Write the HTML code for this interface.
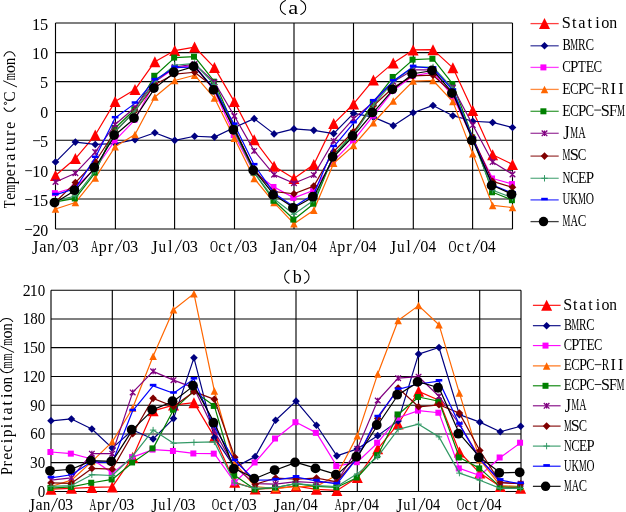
<!DOCTYPE html>
<html><head><meta charset="utf-8"><style>
html,body{margin:0;padding:0;background:#fff;}
svg{display:block;will-change:transform;}
text{font-family:"Liberation Serif", serif;fill:#000;}
</style></head><body>
<svg width="626" height="512" viewBox="0 0 626 512">
<rect width="626" height="512" fill="#fff"/>
<path d="M55.5 23H512.5M55.5 52.6H512.5M55.5 81.6H512.5M55.5 111.5H512.5M55.5 140.3H512.5M55.5 170.3H512.5M55.5 199H512.5M55.5 229H512.5M55.5 23V229M115.4 23V229M174.6 23V229M234.5 23V229M294 23V229M353.5 23V229M413.3 23V229M472.6 23V229M512.5 23V229" stroke="#000" stroke-width="1.12" fill="none"/>
<polyline points="55.5,175.55 75.37,158.53 95.24,135.06 115.11,101.61 134.98,89.58 154.85,61.71 174.72,50.56 194.59,47.04 214.46,67.58 234.33,101.61 254.2,139.75 274.07,166.16 293.93,178.48 313.8,164.4 333.67,123.62 353.54,103.96 373.41,79.9 393.28,62.88 413.15,49.97 433.02,49.68 452.89,67.87 472.76,110.41 492.63,154.72 512.5,164.4" fill="none" stroke="#FF0000" stroke-width="1.2" stroke-linejoin="round"/>
<path d="M55.5 170.05L61 181.05L50 181.05Z" fill="#FF0000"/><path d="M75.37 153.03L80.87 164.03L69.87 164.03Z" fill="#FF0000"/><path d="M95.24 129.56L100.74 140.56L89.74 140.56Z" fill="#FF0000"/><path d="M115.11 96.11L120.61 107.11L109.61 107.11Z" fill="#FF0000"/><path d="M134.98 84.08L140.48 95.08L129.48 95.08Z" fill="#FF0000"/><path d="M154.85 56.21L160.35 67.21L149.35 67.21Z" fill="#FF0000"/><path d="M174.72 45.06L180.22 56.06L169.22 56.06Z" fill="#FF0000"/><path d="M194.59 41.54L200.09 52.54L189.09 52.54Z" fill="#FF0000"/><path d="M214.46 62.08L219.96 73.08L208.96 73.08Z" fill="#FF0000"/><path d="M234.33 96.11L239.83 107.11L228.83 107.11Z" fill="#FF0000"/><path d="M254.2 134.25L259.7 145.25L248.7 145.25Z" fill="#FF0000"/><path d="M274.07 160.66L279.57 171.66L268.57 171.66Z" fill="#FF0000"/><path d="M293.93 172.98L299.43 183.98L288.43 183.98Z" fill="#FF0000"/><path d="M313.8 158.9L319.3 169.9L308.3 169.9Z" fill="#FF0000"/><path d="M333.67 118.12L339.17 129.12L328.17 129.12Z" fill="#FF0000"/><path d="M353.54 98.46L359.04 109.46L348.04 109.46Z" fill="#FF0000"/><path d="M373.41 74.4L378.91 85.4L367.91 85.4Z" fill="#FF0000"/><path d="M393.28 57.38L398.78 68.38L387.78 68.38Z" fill="#FF0000"/><path d="M413.15 44.47L418.65 55.47L407.65 55.47Z" fill="#FF0000"/><path d="M433.02 44.18L438.52 55.18L427.52 55.18Z" fill="#FF0000"/><path d="M452.89 62.37L458.39 73.37L447.39 73.37Z" fill="#FF0000"/><path d="M472.76 104.91L478.26 115.91L467.26 115.91Z" fill="#FF0000"/><path d="M492.63 149.22L498.13 160.22L487.13 160.22Z" fill="#FF0000"/><path d="M512.5 158.9L518 169.9L507 169.9Z" fill="#FF0000"/>
<polyline points="55.5,162.05 75.37,142.1 95.24,144.45 115.11,143.57 134.98,139.75 154.85,132.71 174.72,140.34 194.59,136.23 214.46,137.11 234.33,127.43 254.2,118.63 274.07,133.89 293.93,128.9 313.8,130.36 333.67,133.59 353.54,113.35 373.41,117.16 393.28,125.67 413.15,112.76 433.02,105.43 452.89,115.69 472.76,121.27 492.63,122.44 512.5,127.43" fill="none" stroke="#000080" stroke-width="1.2" stroke-linejoin="round"/>
<path d="M55.5 158.25L59.3 162.05L55.5 165.85L51.7 162.05Z" fill="#000080"/><path d="M75.37 138.3L79.17 142.1L75.37 145.9L71.57 142.1Z" fill="#000080"/><path d="M95.24 140.65L99.04 144.45L95.24 148.25L91.44 144.45Z" fill="#000080"/><path d="M115.11 139.77L118.91 143.57L115.11 147.37L111.31 143.57Z" fill="#000080"/><path d="M134.98 135.95L138.78 139.75L134.98 143.55L131.18 139.75Z" fill="#000080"/><path d="M154.85 128.91L158.65 132.71L154.85 136.51L151.05 132.71Z" fill="#000080"/><path d="M174.72 136.54L178.52 140.34L174.72 144.14L170.92 140.34Z" fill="#000080"/><path d="M194.59 132.43L198.39 136.23L194.59 140.03L190.79 136.23Z" fill="#000080"/><path d="M214.46 133.31L218.26 137.11L214.46 140.91L210.66 137.11Z" fill="#000080"/><path d="M234.33 123.63L238.13 127.43L234.33 131.23L230.53 127.43Z" fill="#000080"/><path d="M254.2 114.83L258 118.63L254.2 122.43L250.4 118.63Z" fill="#000080"/><path d="M274.07 130.09L277.87 133.89L274.07 137.69L270.27 133.89Z" fill="#000080"/><path d="M293.93 125.1L297.73 128.9L293.93 132.7L290.13 128.9Z" fill="#000080"/><path d="M313.8 126.56L317.6 130.36L313.8 134.16L310 130.36Z" fill="#000080"/><path d="M333.67 129.79L337.47 133.59L333.67 137.39L329.87 133.59Z" fill="#000080"/><path d="M353.54 109.55L357.34 113.35L353.54 117.15L349.74 113.35Z" fill="#000080"/><path d="M373.41 113.36L377.21 117.16L373.41 120.96L369.61 117.16Z" fill="#000080"/><path d="M393.28 121.87L397.08 125.67L393.28 129.47L389.48 125.67Z" fill="#000080"/><path d="M413.15 108.96L416.95 112.76L413.15 116.56L409.35 112.76Z" fill="#000080"/><path d="M433.02 101.63L436.82 105.43L433.02 109.23L429.22 105.43Z" fill="#000080"/><path d="M452.89 111.89L456.69 115.69L452.89 119.49L449.09 115.69Z" fill="#000080"/><path d="M472.76 117.47L476.56 121.27L472.76 125.07L468.96 121.27Z" fill="#000080"/><path d="M492.63 118.64L496.43 122.44L492.63 126.24L488.83 122.44Z" fill="#000080"/><path d="M512.5 123.63L516.3 127.43L512.5 131.23L508.7 127.43Z" fill="#000080"/>
<polyline points="55.5,193.15 75.37,187.28 95.24,168.51 115.11,140.34 134.98,119.8 154.85,81.66 174.72,68.16 194.59,65.23 214.46,91.05 234.33,135.06 254.2,172.61 274.07,186.99 293.93,197.85 313.8,190.22 333.67,160.88 353.54,140.34 373.41,115.69 393.28,90.46 413.15,75.79 433.02,72.27 452.89,96.33 472.76,139.17 492.63,178.48 512.5,184.06" fill="none" stroke="#FF00FF" stroke-width="1.2" stroke-linejoin="round"/>
<rect x="51.9" y="190.15" width="6" height="6" fill="#FF00FF"/><rect x="71.77" y="184.28" width="6" height="6" fill="#FF00FF"/><rect x="91.64" y="165.51" width="6" height="6" fill="#FF00FF"/><rect x="111.51" y="137.34" width="6" height="6" fill="#FF00FF"/><rect x="131.38" y="116.8" width="6" height="6" fill="#FF00FF"/><rect x="151.25" y="78.66" width="6" height="6" fill="#FF00FF"/><rect x="171.12" y="65.16" width="6" height="6" fill="#FF00FF"/><rect x="190.99" y="62.23" width="6" height="6" fill="#FF00FF"/><rect x="210.86" y="88.05" width="6" height="6" fill="#FF00FF"/><rect x="230.73" y="132.06" width="6" height="6" fill="#FF00FF"/><rect x="250.6" y="169.61" width="6" height="6" fill="#FF00FF"/><rect x="270.47" y="183.99" width="6" height="6" fill="#FF00FF"/><rect x="290.33" y="194.85" width="6" height="6" fill="#FF00FF"/><rect x="310.2" y="187.22" width="6" height="6" fill="#FF00FF"/><rect x="330.07" y="157.88" width="6" height="6" fill="#FF00FF"/><rect x="349.94" y="137.34" width="6" height="6" fill="#FF00FF"/><rect x="369.81" y="112.69" width="6" height="6" fill="#FF00FF"/><rect x="389.68" y="87.46" width="6" height="6" fill="#FF00FF"/><rect x="409.55" y="72.79" width="6" height="6" fill="#FF00FF"/><rect x="429.42" y="69.27" width="6" height="6" fill="#FF00FF"/><rect x="449.29" y="93.33" width="6" height="6" fill="#FF00FF"/><rect x="469.16" y="136.17" width="6" height="6" fill="#FF00FF"/><rect x="489.03" y="175.48" width="6" height="6" fill="#FF00FF"/><rect x="508.9" y="181.06" width="6" height="6" fill="#FF00FF"/>
<polyline points="55.5,209 75.37,202.54 95.24,177.9 115.11,146.79 134.98,134.47 154.85,96.92 174.72,80.49 194.59,75.21 214.46,98.09 234.33,138.29 254.2,178.48 274.07,202.54 293.93,223.67 313.8,210.17 333.67,163.23 353.54,145.62 373.41,122.74 393.28,101.02 413.15,81.07 433.02,80.49 452.89,101.61 472.76,153.84 492.63,205.47 512.5,207.53" fill="none" stroke="#FF6600" stroke-width="1.2" stroke-linejoin="round"/>
<path d="M55.5 205.25L59.25 212.75L51.75 212.75Z" fill="#FF6600"/><path d="M75.37 198.79L79.12 206.29L71.62 206.29Z" fill="#FF6600"/><path d="M95.24 174.15L98.99 181.65L91.49 181.65Z" fill="#FF6600"/><path d="M115.11 143.04L118.86 150.54L111.36 150.54Z" fill="#FF6600"/><path d="M134.98 130.72L138.73 138.22L131.23 138.22Z" fill="#FF6600"/><path d="M154.85 93.17L158.6 100.67L151.1 100.67Z" fill="#FF6600"/><path d="M174.72 76.74L178.47 84.24L170.97 84.24Z" fill="#FF6600"/><path d="M194.59 71.46L198.34 78.96L190.84 78.96Z" fill="#FF6600"/><path d="M214.46 94.34L218.21 101.84L210.71 101.84Z" fill="#FF6600"/><path d="M234.33 134.54L238.08 142.04L230.58 142.04Z" fill="#FF6600"/><path d="M254.2 174.73L257.95 182.23L250.45 182.23Z" fill="#FF6600"/><path d="M274.07 198.79L277.82 206.29L270.32 206.29Z" fill="#FF6600"/><path d="M293.93 219.92L297.68 227.42L290.18 227.42Z" fill="#FF6600"/><path d="M313.8 206.42L317.55 213.92L310.05 213.92Z" fill="#FF6600"/><path d="M333.67 159.48L337.42 166.98L329.92 166.98Z" fill="#FF6600"/><path d="M353.54 141.87L357.29 149.37L349.79 149.37Z" fill="#FF6600"/><path d="M373.41 118.99L377.16 126.49L369.66 126.49Z" fill="#FF6600"/><path d="M393.28 97.27L397.03 104.77L389.53 104.77Z" fill="#FF6600"/><path d="M413.15 77.32L416.9 84.82L409.4 84.82Z" fill="#FF6600"/><path d="M433.02 76.74L436.77 84.24L429.27 84.24Z" fill="#FF6600"/><path d="M452.89 97.86L456.64 105.36L449.14 105.36Z" fill="#FF6600"/><path d="M472.76 150.09L476.51 157.59L469.01 157.59Z" fill="#FF6600"/><path d="M492.63 201.72L496.38 209.22L488.88 209.22Z" fill="#FF6600"/><path d="M512.5 203.78L516.25 211.28L508.75 211.28Z" fill="#FF6600"/>
<polyline points="55.5,201.95 75.37,198.43 95.24,172.61 115.11,128.02 134.98,109.24 154.85,75.79 174.72,57.6 194.59,56.72 214.46,81.66 234.33,127.43 254.2,172.61 274.07,200.78 293.93,219.56 313.8,203.71 333.67,155.01 353.54,133.3 373.41,102.2 393.28,76.97 413.15,59.65 433.02,58.77 452.89,84.01 472.76,137.41 492.63,192.27 512.5,200.19" fill="none" stroke="#008000" stroke-width="1.2" stroke-linejoin="round"/>
<rect x="51.9" y="198.95" width="6" height="6" fill="#008000"/><rect x="71.77" y="195.43" width="6" height="6" fill="#008000"/><rect x="91.64" y="169.61" width="6" height="6" fill="#008000"/><rect x="111.51" y="125.02" width="6" height="6" fill="#008000"/><rect x="131.38" y="106.24" width="6" height="6" fill="#008000"/><rect x="151.25" y="72.79" width="6" height="6" fill="#008000"/><rect x="171.12" y="54.6" width="6" height="6" fill="#008000"/><rect x="190.99" y="53.72" width="6" height="6" fill="#008000"/><rect x="210.86" y="78.66" width="6" height="6" fill="#008000"/><rect x="230.73" y="124.43" width="6" height="6" fill="#008000"/><rect x="250.6" y="169.61" width="6" height="6" fill="#008000"/><rect x="270.47" y="197.78" width="6" height="6" fill="#008000"/><rect x="290.33" y="216.56" width="6" height="6" fill="#008000"/><rect x="310.2" y="200.71" width="6" height="6" fill="#008000"/><rect x="330.07" y="152.01" width="6" height="6" fill="#008000"/><rect x="349.94" y="130.3" width="6" height="6" fill="#008000"/><rect x="369.81" y="99.2" width="6" height="6" fill="#008000"/><rect x="389.68" y="73.97" width="6" height="6" fill="#008000"/><rect x="409.55" y="56.65" width="6" height="6" fill="#008000"/><rect x="429.42" y="55.77" width="6" height="6" fill="#008000"/><rect x="449.29" y="81.01" width="6" height="6" fill="#008000"/><rect x="469.16" y="134.41" width="6" height="6" fill="#008000"/><rect x="489.03" y="189.27" width="6" height="6" fill="#008000"/><rect x="508.9" y="197.19" width="6" height="6" fill="#008000"/>
<polyline points="55.5,182 75.37,173.2 95.24,152.08 115.11,124.5 134.98,107.48 154.85,81.66 174.72,66.99 194.59,64.06 214.46,82.25 234.33,115.99 254.2,150.9 274.07,174.67 293.93,183.18 313.8,174.96 333.67,140.93 353.54,118.63 373.41,102.2 393.28,81.66 413.15,69.92 433.02,69.92 452.89,87.53 472.76,125.08 492.63,162.05 512.5,174.37" fill="none" stroke="#800080" stroke-width="1.2" stroke-linejoin="round"/>
<path d="M52.7 179.2L58.3 184.8M52.7 184.8L58.3 179.2M55.5 179.2L55.5 184.8" stroke="#800080" stroke-width="1.3" fill="none"/><path d="M72.57 170.4L78.17 176M72.57 176L78.17 170.4M75.37 170.4L75.37 176" stroke="#800080" stroke-width="1.3" fill="none"/><path d="M92.44 149.28L98.04 154.88M92.44 154.88L98.04 149.28M95.24 149.28L95.24 154.88" stroke="#800080" stroke-width="1.3" fill="none"/><path d="M112.31 121.7L117.91 127.3M112.31 127.3L117.91 121.7M115.11 121.7L115.11 127.3" stroke="#800080" stroke-width="1.3" fill="none"/><path d="M132.18 104.68L137.78 110.28M132.18 110.28L137.78 104.68M134.98 104.68L134.98 110.28" stroke="#800080" stroke-width="1.3" fill="none"/><path d="M152.05 78.86L157.65 84.46M152.05 84.46L157.65 78.86M154.85 78.86L154.85 84.46" stroke="#800080" stroke-width="1.3" fill="none"/><path d="M171.92 64.19L177.52 69.79M171.92 69.79L177.52 64.19M174.72 64.19L174.72 69.79" stroke="#800080" stroke-width="1.3" fill="none"/><path d="M191.79 61.26L197.39 66.86M191.79 66.86L197.39 61.26M194.59 61.26L194.59 66.86" stroke="#800080" stroke-width="1.3" fill="none"/><path d="M211.66 79.45L217.26 85.05M211.66 85.05L217.26 79.45M214.46 79.45L214.46 85.05" stroke="#800080" stroke-width="1.3" fill="none"/><path d="M231.53 113.19L237.13 118.79M231.53 118.79L237.13 113.19M234.33 113.19L234.33 118.79" stroke="#800080" stroke-width="1.3" fill="none"/><path d="M251.4 148.1L257 153.7M251.4 153.7L257 148.1M254.2 148.1L254.2 153.7" stroke="#800080" stroke-width="1.3" fill="none"/><path d="M271.27 171.87L276.87 177.47M271.27 177.47L276.87 171.87M274.07 171.87L274.07 177.47" stroke="#800080" stroke-width="1.3" fill="none"/><path d="M291.13 180.38L296.73 185.98M291.13 185.98L296.73 180.38M293.93 180.38L293.93 185.98" stroke="#800080" stroke-width="1.3" fill="none"/><path d="M311 172.16L316.6 177.76M311 177.76L316.6 172.16M313.8 172.16L313.8 177.76" stroke="#800080" stroke-width="1.3" fill="none"/><path d="M330.87 138.13L336.47 143.73M330.87 143.73L336.47 138.13M333.67 138.13L333.67 143.73" stroke="#800080" stroke-width="1.3" fill="none"/><path d="M350.74 115.83L356.34 121.43M350.74 121.43L356.34 115.83M353.54 115.83L353.54 121.43" stroke="#800080" stroke-width="1.3" fill="none"/><path d="M370.61 99.4L376.21 105M370.61 105L376.21 99.4M373.41 99.4L373.41 105" stroke="#800080" stroke-width="1.3" fill="none"/><path d="M390.48 78.86L396.08 84.46M390.48 84.46L396.08 78.86M393.28 78.86L393.28 84.46" stroke="#800080" stroke-width="1.3" fill="none"/><path d="M410.35 67.12L415.95 72.72M410.35 72.72L415.95 67.12M413.15 67.12L413.15 72.72" stroke="#800080" stroke-width="1.3" fill="none"/><path d="M430.22 67.12L435.82 72.72M430.22 72.72L435.82 67.12M433.02 67.12L433.02 72.72" stroke="#800080" stroke-width="1.3" fill="none"/><path d="M450.09 84.73L455.69 90.33M450.09 90.33L455.69 84.73M452.89 84.73L452.89 90.33" stroke="#800080" stroke-width="1.3" fill="none"/><path d="M469.96 122.28L475.56 127.88M469.96 127.88L475.56 122.28M472.76 122.28L472.76 127.88" stroke="#800080" stroke-width="1.3" fill="none"/><path d="M489.83 159.25L495.43 164.85M489.83 164.85L495.43 159.25M492.63 159.25L492.63 164.85" stroke="#800080" stroke-width="1.3" fill="none"/><path d="M509.7 171.57L515.3 177.17M509.7 177.17L515.3 171.57M512.5 171.57L512.5 177.17" stroke="#800080" stroke-width="1.3" fill="none"/>
<polyline points="55.5,201.95 75.37,182.59 95.24,161.76 115.11,131.54 134.98,111 154.85,84.59 174.72,74.03 194.59,72.27 214.46,87.53 234.33,128.6 254.2,169.68 274.07,191.69 293.93,193.74 313.8,186.11 333.67,151.49 353.54,131.54 373.41,105.72 393.28,87.53 413.15,75.79 433.02,75.21 452.89,93.4 472.76,137.41 492.63,181.42 512.5,187.28" fill="none" stroke="#800000" stroke-width="1.2" stroke-linejoin="round"/>
<path d="M55.5 198.15L59.3 201.95L55.5 205.75L51.7 201.95Z" fill="#800000"/><path d="M75.37 178.79L79.17 182.59L75.37 186.39L71.57 182.59Z" fill="#800000"/><path d="M95.24 157.96L99.04 161.76L95.24 165.56L91.44 161.76Z" fill="#800000"/><path d="M115.11 127.74L118.91 131.54L115.11 135.34L111.31 131.54Z" fill="#800000"/><path d="M134.98 107.2L138.78 111L134.98 114.8L131.18 111Z" fill="#800000"/><path d="M154.85 80.79L158.65 84.59L154.85 88.39L151.05 84.59Z" fill="#800000"/><path d="M174.72 70.23L178.52 74.03L174.72 77.83L170.92 74.03Z" fill="#800000"/><path d="M194.59 68.47L198.39 72.27L194.59 76.07L190.79 72.27Z" fill="#800000"/><path d="M214.46 83.73L218.26 87.53L214.46 91.33L210.66 87.53Z" fill="#800000"/><path d="M234.33 124.8L238.13 128.6L234.33 132.4L230.53 128.6Z" fill="#800000"/><path d="M254.2 165.88L258 169.68L254.2 173.48L250.4 169.68Z" fill="#800000"/><path d="M274.07 187.88L277.87 191.69L274.07 195.49L270.27 191.69Z" fill="#800000"/><path d="M293.93 189.94L297.73 193.74L293.93 197.54L290.13 193.74Z" fill="#800000"/><path d="M313.8 182.31L317.6 186.11L313.8 189.91L310 186.11Z" fill="#800000"/><path d="M333.67 147.69L337.47 151.49L333.67 155.29L329.87 151.49Z" fill="#800000"/><path d="M353.54 127.74L357.34 131.54L353.54 135.34L349.74 131.54Z" fill="#800000"/><path d="M373.41 101.92L377.21 105.72L373.41 109.52L369.61 105.72Z" fill="#800000"/><path d="M393.28 83.73L397.08 87.53L393.28 91.33L389.48 87.53Z" fill="#800000"/><path d="M413.15 71.99L416.95 75.79L413.15 79.59L409.35 75.79Z" fill="#800000"/><path d="M433.02 71.41L436.82 75.21L433.02 79.01L429.22 75.21Z" fill="#800000"/><path d="M452.89 89.6L456.69 93.4L452.89 97.2L449.09 93.4Z" fill="#800000"/><path d="M472.76 133.61L476.56 137.41L472.76 141.21L468.96 137.41Z" fill="#800000"/><path d="M492.63 177.62L496.43 181.42L492.63 185.22L488.83 181.42Z" fill="#800000"/><path d="M512.5 183.48L516.3 187.28L512.5 191.08L508.7 187.28Z" fill="#800000"/>
<polyline points="55.5,200.78 75.37,196.09 95.24,170.85 115.11,131.54 134.98,111 154.85,81.66 174.72,65.23 194.59,63.47 214.46,84.59 234.33,131.54 254.2,172.61 274.07,199.02 293.93,214.28 313.8,200.19 333.67,155.6 353.54,134.47 373.41,105.13 393.28,81.66 413.15,66.99 433.02,66.99 452.89,88.7 472.76,139.17 492.63,190.22 512.5,197.85" fill="none" stroke="#339966" stroke-width="1.2" stroke-linejoin="round"/>
<path d="M52.3 200.78L58.7 200.78M55.5 197.58L55.5 203.98" stroke="#339966" stroke-width="1" fill="none"/><path d="M72.17 196.09L78.57 196.09M75.37 192.89L75.37 199.29" stroke="#339966" stroke-width="1" fill="none"/><path d="M92.04 170.85L98.44 170.85M95.24 167.65L95.24 174.05" stroke="#339966" stroke-width="1" fill="none"/><path d="M111.91 131.54L118.31 131.54M115.11 128.34L115.11 134.74" stroke="#339966" stroke-width="1" fill="none"/><path d="M131.78 111L138.18 111M134.98 107.8L134.98 114.2" stroke="#339966" stroke-width="1" fill="none"/><path d="M151.65 81.66L158.05 81.66M154.85 78.46L154.85 84.86" stroke="#339966" stroke-width="1" fill="none"/><path d="M171.52 65.23L177.92 65.23M174.72 62.03L174.72 68.43" stroke="#339966" stroke-width="1" fill="none"/><path d="M191.39 63.47L197.79 63.47M194.59 60.27L194.59 66.67" stroke="#339966" stroke-width="1" fill="none"/><path d="M211.26 84.59L217.66 84.59M214.46 81.39L214.46 87.79" stroke="#339966" stroke-width="1" fill="none"/><path d="M231.13 131.54L237.53 131.54M234.33 128.34L234.33 134.74" stroke="#339966" stroke-width="1" fill="none"/><path d="M251 172.61L257.4 172.61M254.2 169.41L254.2 175.81" stroke="#339966" stroke-width="1" fill="none"/><path d="M270.87 199.02L277.27 199.02M274.07 195.82L274.07 202.22" stroke="#339966" stroke-width="1" fill="none"/><path d="M290.73 214.28L297.13 214.28M293.93 211.08L293.93 217.48" stroke="#339966" stroke-width="1" fill="none"/><path d="M310.6 200.19L317 200.19M313.8 196.99L313.8 203.39" stroke="#339966" stroke-width="1" fill="none"/><path d="M330.47 155.6L336.87 155.6M333.67 152.4L333.67 158.8" stroke="#339966" stroke-width="1" fill="none"/><path d="M350.34 134.47L356.74 134.47M353.54 131.27L353.54 137.67" stroke="#339966" stroke-width="1" fill="none"/><path d="M370.21 105.13L376.61 105.13M373.41 101.93L373.41 108.33" stroke="#339966" stroke-width="1" fill="none"/><path d="M390.08 81.66L396.48 81.66M393.28 78.46L393.28 84.86" stroke="#339966" stroke-width="1" fill="none"/><path d="M409.95 66.99L416.35 66.99M413.15 63.79L413.15 70.19" stroke="#339966" stroke-width="1" fill="none"/><path d="M429.82 66.99L436.22 66.99M433.02 63.79L433.02 70.19" stroke="#339966" stroke-width="1" fill="none"/><path d="M449.69 88.7L456.09 88.7M452.89 85.5L452.89 91.9" stroke="#339966" stroke-width="1" fill="none"/><path d="M469.56 139.17L475.96 139.17M472.76 135.97L472.76 142.37" stroke="#339966" stroke-width="1" fill="none"/><path d="M489.43 190.22L495.83 190.22M492.63 187.02L492.63 193.42" stroke="#339966" stroke-width="1" fill="none"/><path d="M509.3 197.85L515.7 197.85M512.5 194.65L512.5 201.05" stroke="#339966" stroke-width="1" fill="none"/>
<polyline points="55.5,194.91 75.37,188.46 95.24,157.65 115.11,118.04 134.98,103.37 154.85,79.9 174.72,67.58 194.59,66.99 214.46,88.7 234.33,124.5 254.2,164.99 274.07,193.15 293.93,206.65 313.8,194.33 333.67,146.79 353.54,123.03 373.41,101.02 393.28,81.07 413.15,66.7 433.02,68.16 452.89,90.46 472.76,138.58 492.63,184.94 512.5,193.15" fill="none" stroke="#0000FF" stroke-width="1.2" stroke-linejoin="round"/>
<rect x="52.2" y="192.81" width="6.6" height="2.5" fill="#0000FF"/><rect x="72.07" y="186.36" width="6.6" height="2.5" fill="#0000FF"/><rect x="91.94" y="155.55" width="6.6" height="2.5" fill="#0000FF"/><rect x="111.81" y="115.94" width="6.6" height="2.5" fill="#0000FF"/><rect x="131.68" y="101.27" width="6.6" height="2.5" fill="#0000FF"/><rect x="151.55" y="77.8" width="6.6" height="2.5" fill="#0000FF"/><rect x="171.42" y="65.48" width="6.6" height="2.5" fill="#0000FF"/><rect x="191.29" y="64.89" width="6.6" height="2.5" fill="#0000FF"/><rect x="211.16" y="86.6" width="6.6" height="2.5" fill="#0000FF"/><rect x="231.03" y="122.4" width="6.6" height="2.5" fill="#0000FF"/><rect x="250.9" y="162.89" width="6.6" height="2.5" fill="#0000FF"/><rect x="270.77" y="191.05" width="6.6" height="2.5" fill="#0000FF"/><rect x="290.63" y="204.55" width="6.6" height="2.5" fill="#0000FF"/><rect x="310.5" y="192.23" width="6.6" height="2.5" fill="#0000FF"/><rect x="330.37" y="144.69" width="6.6" height="2.5" fill="#0000FF"/><rect x="350.24" y="120.93" width="6.6" height="2.5" fill="#0000FF"/><rect x="370.11" y="98.92" width="6.6" height="2.5" fill="#0000FF"/><rect x="389.98" y="78.97" width="6.6" height="2.5" fill="#0000FF"/><rect x="409.85" y="64.6" width="6.6" height="2.5" fill="#0000FF"/><rect x="429.72" y="66.06" width="6.6" height="2.5" fill="#0000FF"/><rect x="449.59" y="88.36" width="6.6" height="2.5" fill="#0000FF"/><rect x="469.46" y="136.48" width="6.6" height="2.5" fill="#0000FF"/><rect x="489.33" y="182.84" width="6.6" height="2.5" fill="#0000FF"/><rect x="509.2" y="191.05" width="6.6" height="2.5" fill="#0000FF"/>
<polyline points="55.5,202.54 75.37,190.22 95.24,167.33 115.11,135.06 134.98,118.04 154.85,88.11 174.72,72.27 194.59,66.4 214.46,89.88 234.33,129.78 254.2,170.27 274.07,194.91 293.93,207.82 313.8,196.67 333.67,156.77 353.54,135.94 373.41,112.47 393.28,89.29 413.15,73.74 433.02,70.51 452.89,93.1 472.76,140.34 492.63,185.52 512.5,194.33" fill="none" stroke="#000000" stroke-width="1.2" stroke-linejoin="round"/>
<circle cx="54.5" cy="202.54" r="4.9" fill="#000000"/><circle cx="74.37" cy="190.22" r="4.9" fill="#000000"/><circle cx="94.24" cy="167.33" r="4.9" fill="#000000"/><circle cx="114.11" cy="135.06" r="4.9" fill="#000000"/><circle cx="133.98" cy="118.04" r="4.9" fill="#000000"/><circle cx="153.85" cy="88.11" r="4.9" fill="#000000"/><circle cx="173.72" cy="72.27" r="4.9" fill="#000000"/><circle cx="193.59" cy="66.4" r="4.9" fill="#000000"/><circle cx="213.46" cy="89.88" r="4.9" fill="#000000"/><circle cx="233.33" cy="129.78" r="4.9" fill="#000000"/><circle cx="253.2" cy="170.27" r="4.9" fill="#000000"/><circle cx="273.07" cy="194.91" r="4.9" fill="#000000"/><circle cx="292.93" cy="207.82" r="4.9" fill="#000000"/><circle cx="312.8" cy="196.67" r="4.9" fill="#000000"/><circle cx="332.67" cy="156.77" r="4.9" fill="#000000"/><circle cx="352.54" cy="135.94" r="4.9" fill="#000000"/><circle cx="372.41" cy="112.47" r="4.9" fill="#000000"/><circle cx="392.28" cy="89.29" r="4.9" fill="#000000"/><circle cx="412.15" cy="73.74" r="4.9" fill="#000000"/><circle cx="432.02" cy="70.51" r="4.9" fill="#000000"/><circle cx="451.89" cy="93.1" r="4.9" fill="#000000"/><circle cx="471.76" cy="140.34" r="4.9" fill="#000000"/><circle cx="491.63" cy="185.52" r="4.9" fill="#000000"/><circle cx="511.5" cy="194.33" r="4.9" fill="#000000"/>
<text transform="translate(36.42,29.60) scale(1.000,1.000)" x="-4.30" font-size="16.30">1</text>
<text transform="translate(44.27,29.60) scale(1.000,1.000)" x="-4.23" font-size="16.30">5</text>
<text transform="translate(36.42,59.20) scale(1.000,1.000)" x="-4.30" font-size="16.30">1</text>
<text transform="translate(44.27,59.20) scale(0.977,1.000)" x="-4.08" font-size="16.30">0</text>
<text transform="translate(44.27,88.20) scale(1.000,1.000)" x="-4.23" font-size="16.30">5</text>
<text transform="translate(44.27,118.10) scale(0.977,1.000)" x="-4.08" font-size="16.30">0</text>
<rect x="33.05" y="140.28" width="6.91" height="0.85" fill="#000"/>
<text transform="translate(44.27,146.90) scale(1.000,1.000)" x="-4.23" font-size="16.30">5</text>
<rect x="25.20" y="170.28" width="6.91" height="0.85" fill="#000"/>
<text transform="translate(36.43,176.90) scale(1.000,1.000)" x="-4.30" font-size="16.30">1</text>
<text transform="translate(44.28,176.90) scale(0.977,1.000)" x="-4.08" font-size="16.30">0</text>
<rect x="25.20" y="198.98" width="6.91" height="0.85" fill="#000"/>
<text transform="translate(36.43,205.60) scale(1.000,1.000)" x="-4.30" font-size="16.30">1</text>
<text transform="translate(44.28,205.60) scale(1.000,1.000)" x="-4.23" font-size="16.30">5</text>
<rect x="25.20" y="228.98" width="6.91" height="0.85" fill="#000"/>
<text transform="translate(36.43,235.60) scale(1.000,1.000)" x="-3.98" font-size="16.30">2</text>
<text transform="translate(44.28,235.60) scale(0.977,1.000)" x="-4.08" font-size="16.30">0</text>
<text transform="translate(35.15,253.50) scale(1.000,1.160)" x="-3.17" font-size="16.30">J</text>
<text transform="translate(43.05,251.80) scale(1.000,1.000)" x="-3.79" font-size="16.30">a</text>
<text transform="translate(50.95,251.80) scale(0.944,1.000)" x="-4.14" font-size="16.30">n</text>
<path d="M55.85 253.50L62.40 239.74" stroke="#000" stroke-width="0.95" fill="none"/>
<text transform="translate(66.75,251.80) scale(1.000,1.000)" x="-4.08" font-size="16.30">0</text>
<text transform="translate(74.65,251.80) scale(1.000,1.000)" x="-4.15" font-size="16.30">3</text>
<text transform="translate(94.76,251.80) scale(0.619,1.000)" x="-5.91" font-size="16.30">A</text>
<text transform="translate(102.66,251.80) scale(0.981,1.000)" x="-3.89" font-size="16.30">p</text>
<text transform="translate(110.56,251.80) scale(1.000,1.000)" x="-2.81" font-size="16.30">r</text>
<path d="M115.46 253.50L122.01 239.74" stroke="#000" stroke-width="0.95" fill="none"/>
<text transform="translate(126.36,251.80) scale(1.000,1.000)" x="-4.08" font-size="16.30">0</text>
<text transform="translate(134.26,251.80) scale(1.000,1.000)" x="-4.15" font-size="16.30">3</text>
<text transform="translate(154.37,253.50) scale(1.000,1.160)" x="-3.17" font-size="16.30">J</text>
<text transform="translate(162.27,251.80) scale(0.929,1.000)" x="-4.04" font-size="16.30">u</text>
<text transform="translate(170.17,251.80) scale(1.000,1.000)" x="-2.26" font-size="16.30">l</text>
<path d="M175.07 253.50L181.62 239.74" stroke="#000" stroke-width="0.95" fill="none"/>
<text transform="translate(185.97,251.80) scale(1.000,1.000)" x="-4.08" font-size="16.30">0</text>
<text transform="translate(193.87,251.80) scale(1.000,1.000)" x="-4.15" font-size="16.30">3</text>
<text transform="translate(213.98,251.80) scale(0.681,1.000)" x="-5.89" font-size="16.30">O</text>
<text transform="translate(221.88,251.80) scale(1.000,1.000)" x="-3.68" font-size="16.30">c</text>
<text transform="translate(229.78,251.80) scale(1.000,1.000)" x="-2.30" font-size="16.30">t</text>
<path d="M234.67 253.50L241.23 239.74" stroke="#000" stroke-width="0.95" fill="none"/>
<text transform="translate(245.58,251.80) scale(1.000,1.000)" x="-4.08" font-size="16.30">0</text>
<text transform="translate(253.48,251.80) scale(1.000,1.000)" x="-4.15" font-size="16.30">3</text>
<text transform="translate(273.58,253.50) scale(1.000,1.160)" x="-3.17" font-size="16.30">J</text>
<text transform="translate(281.48,251.80) scale(1.000,1.000)" x="-3.79" font-size="16.30">a</text>
<text transform="translate(289.38,251.80) scale(0.944,1.000)" x="-4.14" font-size="16.30">n</text>
<path d="M294.28 253.50L300.84 239.74" stroke="#000" stroke-width="0.95" fill="none"/>
<text transform="translate(305.18,251.80) scale(1.000,1.000)" x="-4.08" font-size="16.30">0</text>
<text transform="translate(313.08,251.80) scale(0.938,1.000)" x="-4.11" font-size="16.30">4</text>
<text transform="translate(333.19,251.80) scale(0.619,1.000)" x="-5.91" font-size="16.30">A</text>
<text transform="translate(341.09,251.80) scale(0.981,1.000)" x="-3.89" font-size="16.30">p</text>
<text transform="translate(348.99,251.80) scale(1.000,1.000)" x="-2.81" font-size="16.30">r</text>
<path d="M353.89 253.50L360.45 239.74" stroke="#000" stroke-width="0.95" fill="none"/>
<text transform="translate(364.79,251.80) scale(1.000,1.000)" x="-4.08" font-size="16.30">0</text>
<text transform="translate(372.69,251.80) scale(0.938,1.000)" x="-4.11" font-size="16.30">4</text>
<text transform="translate(392.80,253.50) scale(1.000,1.160)" x="-3.17" font-size="16.30">J</text>
<text transform="translate(400.70,251.80) scale(0.929,1.000)" x="-4.04" font-size="16.30">u</text>
<text transform="translate(408.60,251.80) scale(1.000,1.000)" x="-2.26" font-size="16.30">l</text>
<path d="M413.50 253.50L420.06 239.74" stroke="#000" stroke-width="0.95" fill="none"/>
<text transform="translate(424.40,251.80) scale(1.000,1.000)" x="-4.08" font-size="16.30">0</text>
<text transform="translate(432.30,251.80) scale(0.938,1.000)" x="-4.11" font-size="16.30">4</text>
<text transform="translate(452.41,251.80) scale(0.681,1.000)" x="-5.89" font-size="16.30">O</text>
<text transform="translate(460.31,251.80) scale(1.000,1.000)" x="-3.68" font-size="16.30">c</text>
<text transform="translate(468.21,251.80) scale(1.000,1.000)" x="-2.30" font-size="16.30">t</text>
<path d="M473.11 253.50L479.67 239.74" stroke="#000" stroke-width="0.95" fill="none"/>
<text transform="translate(484.01,251.80) scale(1.000,1.000)" x="-4.08" font-size="16.30">0</text>
<text transform="translate(491.91,251.80) scale(0.938,1.000)" x="-4.11" font-size="16.30">4</text>
<path d="M285.40 0.60C278.60 3.66 278.60 11.44 285.40 14.50" stroke="#000" stroke-width="1.05" fill="none" stroke-linecap="round"/>
<text transform="translate(293.40,13.70) scale(1.200,1.000)" x="-4.35" font-size="18.70">a</text>
<path d="M300.80 0.60C307.33 3.66 307.33 11.44 300.80 14.50" stroke="#000" stroke-width="1.05" fill="none" stroke-linecap="round"/>
<g transform="translate(15.3,208.3) rotate(-90)"><text transform="translate(3.95,0.00) scale(0.774,1.000)" x="-4.99" font-size="16.30">T</text><text transform="translate(11.85,0.00) scale(1.000,1.000)" x="-3.65" font-size="16.30">e</text><text transform="translate(19.75,0.00) scale(0.602,1.000)" x="-6.38" font-size="16.30">m</text><text transform="translate(27.65,0.00) scale(1.000,1.000)" x="-3.89" font-size="16.30">p</text><text transform="translate(35.55,0.00) scale(1.000,1.000)" x="-3.65" font-size="16.30">e</text><text transform="translate(43.45,0.00) scale(1.000,1.000)" x="-2.81" font-size="16.30">r</text><text transform="translate(51.35,0.00) scale(1.000,1.000)" x="-3.79" font-size="16.30">a</text><text transform="translate(59.25,0.00) scale(1.000,1.000)" x="-2.30" font-size="16.30">t</text><text transform="translate(67.15,0.00) scale(0.949,1.000)" x="-4.04" font-size="16.30">u</text><text transform="translate(75.05,0.00) scale(1.000,1.000)" x="-2.81" font-size="16.30">r</text><text transform="translate(82.95,0.00) scale(1.000,1.000)" x="-3.65" font-size="16.30">e</text><path d="M100.40 -11.30C95.87 -8.86 95.87 -2.64 100.40 -0.20" stroke="#000" stroke-width="1.05" fill="none" stroke-linecap="round"/><circle cx="104.9" cy="-9.9" r="1.15" stroke="#000" stroke-width="0.9" fill="none"/><text transform="translate(111.70,0.00) scale(0.950,1.000)" x="-5.32" font-size="16.30">C</text><path d="M121.31 1.70L127.57 -12.06" stroke="#000" stroke-width="0.95" fill="none"/><text transform="translate(131.72,0.00) scale(0.575,1.000)" x="-6.38" font-size="16.30">m</text><text transform="translate(139.28,0.00) scale(1.000,1.000)" x="-4.08" font-size="16.30">o</text><text transform="translate(146.83,0.00) scale(0.923,1.000)" x="-4.14" font-size="16.30">n</text><path d="M152.20 -11.30C158.07 -8.86 158.07 -2.64 152.20 -0.20" stroke="#000" stroke-width="1.05" fill="none" stroke-linecap="round"/></g>
<path d="M530.5 23.6H558.7" stroke="#FF0000" stroke-width="1.3" opacity="0.75"/>
<path d="M544.5 18.1L550 29.1L539 29.1Z" fill="#FF0000"/>
<text transform="translate(566.40,27.95) scale(1.000,1.000)" x="-4.57" font-size="16.30">S</text>
<text transform="translate(574.20,27.95) scale(1.000,1.000)" x="-2.30" font-size="16.30">t</text>
<text transform="translate(582.00,27.95) scale(1.000,1.000)" x="-3.79" font-size="16.30">a</text>
<text transform="translate(589.80,27.95) scale(1.000,1.000)" x="-2.30" font-size="16.30">t</text>
<text transform="translate(597.60,27.95) scale(1.000,1.000)" x="-2.28" font-size="16.30">i</text>
<text transform="translate(605.40,27.95) scale(1.000,1.000)" x="-4.08" font-size="16.30">o</text>
<text transform="translate(613.20,27.95) scale(0.974,1.000)" x="-4.14" font-size="16.30">n</text>
<path d="M530.5 45.8H558.7" stroke="#000080" stroke-width="1.3" opacity="0.75"/>
<path d="M544.5 42L548.3 45.8L544.5 49.6L540.7 45.8Z" fill="#000080"/>
<text transform="translate(566.40,50.15) scale(0.763,1.000)" x="-5.27" font-size="16.30">B</text>
<text transform="translate(574.20,50.15) scale(0.541,1.000)" x="-7.24" font-size="16.30">M</text>
<text transform="translate(582.00,50.15) scale(0.706,1.000)" x="-5.66" font-size="16.30">R</text>
<text transform="translate(589.80,50.15) scale(0.788,1.000)" x="-5.32" font-size="16.30">C</text>
<path d="M530.5 67.4H558.7" stroke="#FF00FF" stroke-width="1.3" opacity="0.75"/>
<rect x="540.4" y="64.4" width="6" height="6" fill="#FF00FF"/>
<text transform="translate(566.40,71.75) scale(0.788,1.000)" x="-5.32" font-size="16.30">C</text>
<text transform="translate(574.20,71.75) scale(0.923,1.000)" x="-4.44" font-size="16.30">P</text>
<text transform="translate(582.00,71.75) scale(0.781,1.000)" x="-4.99" font-size="16.30">T</text>
<text transform="translate(589.80,71.75) scale(0.845,1.000)" x="-4.81" font-size="16.30">E</text>
<text transform="translate(597.60,71.75) scale(0.788,1.000)" x="-5.32" font-size="16.30">C</text>
<path d="M530.5 89.4H558.7" stroke="#FF6600" stroke-width="1.3" opacity="0.75"/>
<path d="M544.5 85.65L548.25 93.15L540.75 93.15Z" fill="#FF6600"/>
<text transform="translate(566.40,93.75) scale(0.845,1.000)" x="-4.81" font-size="16.30">E</text>
<text transform="translate(574.20,93.75) scale(0.788,1.000)" x="-5.32" font-size="16.30">C</text>
<text transform="translate(582.00,93.75) scale(0.923,1.000)" x="-4.44" font-size="16.30">P</text>
<text transform="translate(589.80,93.75) scale(0.788,1.000)" x="-5.32" font-size="16.30">C</text>
<rect x="594.25" y="87.73" width="6.86" height="0.85" fill="#000"/>
<text transform="translate(605.40,93.75) scale(0.706,1.000)" x="-5.66" font-size="16.30">R</text>
<text transform="translate(613.20,93.75) scale(1.000,1.000)" x="-2.72" font-size="16.30">I</text>
<text transform="translate(621.00,93.75) scale(1.000,1.000)" x="-2.72" font-size="16.30">I</text>
<path d="M530.5 111.3H558.7" stroke="#008000" stroke-width="1.3" opacity="0.75"/>
<rect x="540.4" y="108.3" width="6" height="6" fill="#008000"/>
<text transform="translate(566.40,115.65) scale(0.845,1.000)" x="-4.81" font-size="16.30">E</text>
<text transform="translate(574.20,115.65) scale(0.788,1.000)" x="-5.32" font-size="16.30">C</text>
<text transform="translate(582.00,115.65) scale(0.923,1.000)" x="-4.44" font-size="16.30">P</text>
<text transform="translate(589.80,115.65) scale(0.788,1.000)" x="-5.32" font-size="16.30">C</text>
<rect x="594.25" y="109.63" width="6.86" height="0.85" fill="#000"/>
<text transform="translate(605.40,115.65) scale(1.000,1.000)" x="-4.57" font-size="16.30">S</text>
<text transform="translate(613.20,115.65) scale(0.916,1.000)" x="-4.47" font-size="16.30">F</text>
<text transform="translate(621.00,115.65) scale(0.541,1.000)" x="-7.24" font-size="16.30">M</text>
<path d="M530.5 133.3H558.7" stroke="#800080" stroke-width="1.3" opacity="0.75"/>
<path d="M541.7 130.5L547.3 136.1M541.7 136.1L547.3 130.5M544.5 130.5L544.5 136.1" stroke="#800080" stroke-width="1.3" fill="none"/>
<text transform="translate(566.40,139.35) scale(1.000,1.160)" x="-3.17" font-size="16.30">J</text>
<text transform="translate(574.20,137.65) scale(0.541,1.000)" x="-7.24" font-size="16.30">M</text>
<text transform="translate(582.00,137.65) scale(0.638,1.000)" x="-5.91" font-size="16.30">A</text>
<path d="M530.5 156.1H558.7" stroke="#800000" stroke-width="1.3" opacity="0.75"/>
<path d="M544.5 152.3L548.3 156.1L544.5 159.9L540.7 156.1Z" fill="#800000"/>
<text transform="translate(566.40,160.45) scale(0.541,1.000)" x="-7.24" font-size="16.30">M</text>
<text transform="translate(574.20,160.45) scale(1.000,1.000)" x="-4.57" font-size="16.30">S</text>
<text transform="translate(582.00,160.45) scale(0.788,1.000)" x="-5.32" font-size="16.30">C</text>
<path d="M530.5 178.3H558.7" stroke="#339966" stroke-width="1.3" opacity="0.75"/>
<path d="M541.3 178.3L547.7 178.3M544.5 175.1L544.5 181.5" stroke="#339966" stroke-width="1" fill="none"/>
<text transform="translate(566.40,182.65) scale(0.671,1.000)" x="-5.93" font-size="16.30">N</text>
<text transform="translate(574.20,182.65) scale(0.788,1.000)" x="-5.32" font-size="16.30">C</text>
<text transform="translate(582.00,182.65) scale(0.845,1.000)" x="-4.81" font-size="16.30">E</text>
<text transform="translate(589.80,182.65) scale(0.923,1.000)" x="-4.44" font-size="16.30">P</text>
<path d="M530.5 199.9H558.7" stroke="#0000FF" stroke-width="1.3" opacity="0.75"/>
<rect x="541.2" y="197.8" width="6.6" height="2.5" fill="#0000FF"/>
<text transform="translate(566.40,204.25) scale(0.661,1.000)" x="-5.89" font-size="16.30">U</text>
<text transform="translate(574.20,204.25) scale(0.658,1.000)" x="-6.04" font-size="16.30">K</text>
<text transform="translate(582.00,204.25) scale(0.541,1.000)" x="-7.24" font-size="16.30">M</text>
<text transform="translate(589.80,204.25) scale(0.703,1.000)" x="-5.89" font-size="16.30">O</text>
<path d="M530.5 221.6H558.7" stroke="#000000" stroke-width="1.3" opacity="0.75"/>
<circle cx="543.5" cy="221.6" r="4.75" fill="#000000"/>
<text transform="translate(566.40,225.95) scale(0.541,1.000)" x="-7.24" font-size="16.30">M</text>
<text transform="translate(574.20,225.95) scale(0.638,1.000)" x="-5.91" font-size="16.30">A</text>
<text transform="translate(582.00,225.95) scale(0.788,1.000)" x="-5.32" font-size="16.30">C</text>
<path d="M51 290.3H521M51 319H521M51 347.6H521M51 376.5H521M51 405.3H521M51 434H521M51 462.6H521M51 491.5H521M51 290.3V491.5M112.3 290.3V491.5M173.5 290.3V491.5M234.7 290.3V491.5M296 290.3V491.5M357.3 290.3V491.5M418.5 290.3V491.5M479.7 290.3V491.5M521 290.3V491.5" stroke="#000" stroke-width="1.12" fill="none"/>
<polyline points="51,489.19 71.42,488.33 91.84,487.47 112.26,486.89 132.68,457.19 153.1,410.82 173.52,405.07 193.94,402.68 214.36,436.88 234.78,482.2 255.2,488.9 275.62,488.33 296.04,486.13 316.46,489.29 336.88,490.44 357.3,477.41 377.72,448.86 398.14,423.95 418.56,391.37 438.98,400.18 459.4,452.02 479.82,473.1 500.24,486.51 520.66,488.14" fill="none" stroke="#FF0000" stroke-width="1.2" stroke-linejoin="round"/>
<path d="M51 483.69L56.5 494.69L45.5 494.69Z" fill="#FF0000"/><path d="M71.42 482.83L76.92 493.83L65.92 493.83Z" fill="#FF0000"/><path d="M91.84 481.97L97.34 492.97L86.34 492.97Z" fill="#FF0000"/><path d="M112.26 481.39L117.76 492.39L106.76 492.39Z" fill="#FF0000"/><path d="M132.68 451.69L138.18 462.69L127.18 462.69Z" fill="#FF0000"/><path d="M153.1 405.32L158.6 416.32L147.6 416.32Z" fill="#FF0000"/><path d="M173.52 399.57L179.02 410.57L168.02 410.57Z" fill="#FF0000"/><path d="M193.94 397.18L199.44 408.18L188.44 408.18Z" fill="#FF0000"/><path d="M214.36 431.38L219.86 442.38L208.86 442.38Z" fill="#FF0000"/><path d="M234.78 476.7L240.28 487.7L229.28 487.7Z" fill="#FF0000"/><path d="M255.2 483.4L260.7 494.4L249.7 494.4Z" fill="#FF0000"/><path d="M275.62 482.83L281.12 493.83L270.12 493.83Z" fill="#FF0000"/><path d="M296.04 480.63L301.54 491.63L290.54 491.63Z" fill="#FF0000"/><path d="M316.46 483.79L321.96 494.79L310.96 494.79Z" fill="#FF0000"/><path d="M336.88 484.94L342.38 495.94L331.38 495.94Z" fill="#FF0000"/><path d="M357.3 471.91L362.8 482.91L351.8 482.91Z" fill="#FF0000"/><path d="M377.72 443.36L383.22 454.36L372.22 454.36Z" fill="#FF0000"/><path d="M398.14 418.45L403.64 429.45L392.64 429.45Z" fill="#FF0000"/><path d="M418.56 385.87L424.06 396.87L413.06 396.87Z" fill="#FF0000"/><path d="M438.98 394.68L444.48 405.68L433.48 405.68Z" fill="#FF0000"/><path d="M459.4 446.52L464.9 457.52L453.9 457.52Z" fill="#FF0000"/><path d="M479.82 467.6L485.32 478.6L474.32 478.6Z" fill="#FF0000"/><path d="M500.24 481.01L505.74 492.01L494.74 492.01Z" fill="#FF0000"/><path d="M520.66 482.64L526.16 493.64L515.16 493.64Z" fill="#FF0000"/>
<polyline points="51,420.78 71.42,418.96 91.84,429.02 112.26,448.09 132.68,429.98 153.1,438.99 173.52,418.58 193.94,357.84 214.36,437.45 234.78,467.35 255.2,456.62 275.62,420.3 296.04,401.14 316.46,425.29 336.88,455.85 357.3,448.86 377.72,435.63 398.14,421.07 418.56,354.1 438.98,347.49 459.4,414.65 479.82,422.13 500.24,431.71 520.66,426.25" fill="none" stroke="#000080" stroke-width="1.2" stroke-linejoin="round"/>
<path d="M51 416.98L54.8 420.78L51 424.58L47.2 420.78Z" fill="#000080"/><path d="M71.42 415.16L75.22 418.96L71.42 422.76L67.62 418.96Z" fill="#000080"/><path d="M91.84 425.22L95.64 429.02L91.84 432.82L88.04 429.02Z" fill="#000080"/><path d="M112.26 444.29L116.06 448.09L112.26 451.89L108.46 448.09Z" fill="#000080"/><path d="M132.68 426.18L136.48 429.98L132.68 433.78L128.88 429.98Z" fill="#000080"/><path d="M153.1 435.19L156.9 438.99L153.1 442.79L149.3 438.99Z" fill="#000080"/><path d="M173.52 414.78L177.32 418.58L173.52 422.38L169.72 418.58Z" fill="#000080"/><path d="M193.94 354.04L197.74 357.84L193.94 361.64L190.14 357.84Z" fill="#000080"/><path d="M214.36 433.65L218.16 437.45L214.36 441.25L210.56 437.45Z" fill="#000080"/><path d="M234.78 463.55L238.58 467.35L234.78 471.15L230.98 467.35Z" fill="#000080"/><path d="M255.2 452.82L259 456.62L255.2 460.42L251.4 456.62Z" fill="#000080"/><path d="M275.62 416.5L279.42 420.3L275.62 424.1L271.82 420.3Z" fill="#000080"/><path d="M296.04 397.34L299.84 401.14L296.04 404.94L292.24 401.14Z" fill="#000080"/><path d="M316.46 421.49L320.26 425.29L316.46 429.09L312.66 425.29Z" fill="#000080"/><path d="M336.88 452.05L340.68 455.85L336.88 459.65L333.08 455.85Z" fill="#000080"/><path d="M357.3 445.06L361.1 448.86L357.3 452.66L353.5 448.86Z" fill="#000080"/><path d="M377.72 431.83L381.52 435.63L377.72 439.43L373.92 435.63Z" fill="#000080"/><path d="M398.14 417.27L401.94 421.07L398.14 424.87L394.34 421.07Z" fill="#000080"/><path d="M418.56 350.3L422.36 354.1L418.56 357.9L414.76 354.1Z" fill="#000080"/><path d="M438.98 343.69L442.78 347.49L438.98 351.29L435.18 347.49Z" fill="#000080"/><path d="M459.4 410.85L463.2 414.65L459.4 418.45L455.6 414.65Z" fill="#000080"/><path d="M479.82 418.33L483.62 422.13L479.82 425.93L476.02 422.13Z" fill="#000080"/><path d="M500.24 427.91L504.04 431.71L500.24 435.51L496.44 431.71Z" fill="#000080"/><path d="M520.66 422.45L524.46 426.25L520.66 430.05L516.86 426.25Z" fill="#000080"/>
<polyline points="51,452.02 71.42,453.65 91.84,459.01 112.26,473.1 132.68,457.1 153.1,449.62 173.52,450.96 193.94,453.46 214.36,453.65 234.78,482.49 255.2,462.46 275.62,438.51 296.04,422.22 316.46,432.86 336.88,466.1 357.3,462.17 377.72,442.72 398.14,417.72 418.56,410.63 438.98,412.74 459.4,468.4 479.82,475.49 500.24,457.48 520.66,442.72" fill="none" stroke="#FF00FF" stroke-width="1.2" stroke-linejoin="round"/>
<rect x="47.4" y="449.02" width="6" height="6" fill="#FF00FF"/><rect x="67.82" y="450.65" width="6" height="6" fill="#FF00FF"/><rect x="88.24" y="456.01" width="6" height="6" fill="#FF00FF"/><rect x="108.66" y="470.1" width="6" height="6" fill="#FF00FF"/><rect x="129.08" y="454.1" width="6" height="6" fill="#FF00FF"/><rect x="149.5" y="446.62" width="6" height="6" fill="#FF00FF"/><rect x="169.92" y="447.96" width="6" height="6" fill="#FF00FF"/><rect x="190.34" y="450.46" width="6" height="6" fill="#FF00FF"/><rect x="210.76" y="450.65" width="6" height="6" fill="#FF00FF"/><rect x="231.18" y="479.49" width="6" height="6" fill="#FF00FF"/><rect x="251.6" y="459.46" width="6" height="6" fill="#FF00FF"/><rect x="272.02" y="435.51" width="6" height="6" fill="#FF00FF"/><rect x="292.44" y="419.22" width="6" height="6" fill="#FF00FF"/><rect x="312.86" y="429.86" width="6" height="6" fill="#FF00FF"/><rect x="333.28" y="463.1" width="6" height="6" fill="#FF00FF"/><rect x="353.7" y="459.17" width="6" height="6" fill="#FF00FF"/><rect x="374.12" y="439.72" width="6" height="6" fill="#FF00FF"/><rect x="394.54" y="414.72" width="6" height="6" fill="#FF00FF"/><rect x="414.96" y="407.63" width="6" height="6" fill="#FF00FF"/><rect x="435.38" y="409.74" width="6" height="6" fill="#FF00FF"/><rect x="455.8" y="465.4" width="6" height="6" fill="#FF00FF"/><rect x="476.22" y="472.49" width="6" height="6" fill="#FF00FF"/><rect x="496.64" y="454.48" width="6" height="6" fill="#FF00FF"/><rect x="517.06" y="439.72" width="6" height="6" fill="#FF00FF"/>
<polyline points="51,486.51 71.42,480.19 91.84,461.6 112.26,441.86 132.68,407.95 153.1,356.21 173.52,309.74 193.94,293.64 214.36,390.99 234.78,463.23 255.2,486.51 275.62,488.62 296.04,486.51 316.46,486.51 336.88,475.01 357.3,435.63 377.72,373.93 398.14,320.47 418.56,305.62 438.98,324.69 459.4,393.09 479.82,459.68 500.24,485.55 520.66,486.51" fill="none" stroke="#FF6600" stroke-width="1.2" stroke-linejoin="round"/>
<path d="M51 482.76L54.75 490.26L47.25 490.26Z" fill="#FF6600"/><path d="M71.42 476.44L75.17 483.94L67.67 483.94Z" fill="#FF6600"/><path d="M91.84 457.85L95.59 465.35L88.09 465.35Z" fill="#FF6600"/><path d="M112.26 438.11L116.01 445.61L108.51 445.61Z" fill="#FF6600"/><path d="M132.68 404.2L136.43 411.7L128.93 411.7Z" fill="#FF6600"/><path d="M153.1 352.46L156.85 359.96L149.35 359.96Z" fill="#FF6600"/><path d="M173.52 305.99L177.27 313.49L169.77 313.49Z" fill="#FF6600"/><path d="M193.94 289.89L197.69 297.39L190.19 297.39Z" fill="#FF6600"/><path d="M214.36 387.24L218.11 394.74L210.61 394.74Z" fill="#FF6600"/><path d="M234.78 459.48L238.53 466.98L231.03 466.98Z" fill="#FF6600"/><path d="M255.2 482.76L258.95 490.26L251.45 490.26Z" fill="#FF6600"/><path d="M275.62 484.87L279.37 492.37L271.87 492.37Z" fill="#FF6600"/><path d="M296.04 482.76L299.79 490.26L292.29 490.26Z" fill="#FF6600"/><path d="M316.46 482.76L320.21 490.26L312.71 490.26Z" fill="#FF6600"/><path d="M336.88 471.26L340.63 478.76L333.13 478.76Z" fill="#FF6600"/><path d="M357.3 431.88L361.05 439.38L353.55 439.38Z" fill="#FF6600"/><path d="M377.72 370.18L381.47 377.68L373.97 377.68Z" fill="#FF6600"/><path d="M398.14 316.72L401.89 324.22L394.39 324.22Z" fill="#FF6600"/><path d="M418.56 301.87L422.31 309.37L414.81 309.37Z" fill="#FF6600"/><path d="M438.98 320.94L442.73 328.44L435.23 328.44Z" fill="#FF6600"/><path d="M459.4 389.34L463.15 396.84L455.65 396.84Z" fill="#FF6600"/><path d="M479.82 455.93L483.57 463.43L476.07 463.43Z" fill="#FF6600"/><path d="M500.24 481.8L503.99 489.3L496.49 489.3Z" fill="#FF6600"/><path d="M520.66 482.76L524.41 490.26L516.91 490.26Z" fill="#FF6600"/>
<polyline points="51,488.04 71.42,486.89 91.84,482.77 112.26,479.42 132.68,462.46 153.1,448.38 173.52,409.67 193.94,391.18 214.36,405.93 234.78,475.59 255.2,489.48 275.62,487.47 296.04,483.64 316.46,486.32 336.88,487.28 357.3,477.5 377.72,455.18 398.14,414.46 418.56,397.02 438.98,401.24 459.4,457.48 479.82,468.4 500.24,486.89 520.66,487.18" fill="none" stroke="#008000" stroke-width="1.2" stroke-linejoin="round"/>
<rect x="47.4" y="485.04" width="6" height="6" fill="#008000"/><rect x="67.82" y="483.89" width="6" height="6" fill="#008000"/><rect x="88.24" y="479.77" width="6" height="6" fill="#008000"/><rect x="108.66" y="476.42" width="6" height="6" fill="#008000"/><rect x="129.08" y="459.46" width="6" height="6" fill="#008000"/><rect x="149.5" y="445.38" width="6" height="6" fill="#008000"/><rect x="169.92" y="406.67" width="6" height="6" fill="#008000"/><rect x="190.34" y="388.18" width="6" height="6" fill="#008000"/><rect x="210.76" y="402.93" width="6" height="6" fill="#008000"/><rect x="231.18" y="472.59" width="6" height="6" fill="#008000"/><rect x="251.6" y="486.48" width="6" height="6" fill="#008000"/><rect x="272.02" y="484.47" width="6" height="6" fill="#008000"/><rect x="292.44" y="480.64" width="6" height="6" fill="#008000"/><rect x="312.86" y="483.32" width="6" height="6" fill="#008000"/><rect x="333.28" y="484.28" width="6" height="6" fill="#008000"/><rect x="353.7" y="474.5" width="6" height="6" fill="#008000"/><rect x="374.12" y="452.18" width="6" height="6" fill="#008000"/><rect x="394.54" y="411.46" width="6" height="6" fill="#008000"/><rect x="414.96" y="394.02" width="6" height="6" fill="#008000"/><rect x="435.38" y="398.24" width="6" height="6" fill="#008000"/><rect x="455.8" y="454.48" width="6" height="6" fill="#008000"/><rect x="476.22" y="465.4" width="6" height="6" fill="#008000"/><rect x="496.64" y="483.89" width="6" height="6" fill="#008000"/><rect x="517.06" y="484.18" width="6" height="6" fill="#008000"/>
<polyline points="51,480.19 71.42,477.89 91.84,453.65 112.26,453.65 132.68,392.42 153.1,371.35 173.52,380.16 193.94,387.83 214.36,430.94 234.78,467.35 255.2,483.64 275.62,484.11 296.04,481.72 316.46,482.77 336.88,481.72 357.3,448.86 377.72,400.47 398.14,378.15 418.56,376.71 438.98,396.26 459.4,424.23 479.82,457.77 500.24,482.68 520.66,483.64" fill="none" stroke="#800080" stroke-width="1.2" stroke-linejoin="round"/>
<path d="M48.2 477.39L53.8 482.99M48.2 482.99L53.8 477.39M51 477.39L51 482.99" stroke="#800080" stroke-width="1.3" fill="none"/><path d="M68.62 475.09L74.22 480.69M68.62 480.69L74.22 475.09M71.42 475.09L71.42 480.69" stroke="#800080" stroke-width="1.3" fill="none"/><path d="M89.04 450.85L94.64 456.45M89.04 456.45L94.64 450.85M91.84 450.85L91.84 456.45" stroke="#800080" stroke-width="1.3" fill="none"/><path d="M109.46 450.85L115.06 456.45M109.46 456.45L115.06 450.85M112.26 450.85L112.26 456.45" stroke="#800080" stroke-width="1.3" fill="none"/><path d="M129.88 389.62L135.48 395.22M129.88 395.22L135.48 389.62M132.68 389.62L132.68 395.22" stroke="#800080" stroke-width="1.3" fill="none"/><path d="M150.3 368.55L155.9 374.15M150.3 374.15L155.9 368.55M153.1 368.55L153.1 374.15" stroke="#800080" stroke-width="1.3" fill="none"/><path d="M170.72 377.36L176.32 382.96M170.72 382.96L176.32 377.36M173.52 377.36L173.52 382.96" stroke="#800080" stroke-width="1.3" fill="none"/><path d="M191.14 385.03L196.74 390.63M191.14 390.63L196.74 385.03M193.94 385.03L193.94 390.63" stroke="#800080" stroke-width="1.3" fill="none"/><path d="M211.56 428.14L217.16 433.74M211.56 433.74L217.16 428.14M214.36 428.14L214.36 433.74" stroke="#800080" stroke-width="1.3" fill="none"/><path d="M231.98 464.55L237.58 470.15M231.98 470.15L237.58 464.55M234.78 464.55L234.78 470.15" stroke="#800080" stroke-width="1.3" fill="none"/><path d="M252.4 480.84L258 486.44M252.4 486.44L258 480.84M255.2 480.84L255.2 486.44" stroke="#800080" stroke-width="1.3" fill="none"/><path d="M272.82 481.31L278.42 486.91M272.82 486.91L278.42 481.31M275.62 481.31L275.62 486.91" stroke="#800080" stroke-width="1.3" fill="none"/><path d="M293.24 478.92L298.84 484.52M293.24 484.52L298.84 478.92M296.04 478.92L296.04 484.52" stroke="#800080" stroke-width="1.3" fill="none"/><path d="M313.66 479.97L319.26 485.57M313.66 485.57L319.26 479.97M316.46 479.97L316.46 485.57" stroke="#800080" stroke-width="1.3" fill="none"/><path d="M334.08 478.92L339.68 484.52M334.08 484.52L339.68 478.92M336.88 478.92L336.88 484.52" stroke="#800080" stroke-width="1.3" fill="none"/><path d="M354.5 446.06L360.1 451.66M354.5 451.66L360.1 446.06M357.3 446.06L357.3 451.66" stroke="#800080" stroke-width="1.3" fill="none"/><path d="M374.92 397.67L380.52 403.27M374.92 403.27L380.52 397.67M377.72 397.67L377.72 403.27" stroke="#800080" stroke-width="1.3" fill="none"/><path d="M395.34 375.35L400.94 380.95M395.34 380.95L400.94 375.35M398.14 375.35L398.14 380.95" stroke="#800080" stroke-width="1.3" fill="none"/><path d="M415.76 373.91L421.36 379.51M415.76 379.51L421.36 373.91M418.56 373.91L418.56 379.51" stroke="#800080" stroke-width="1.3" fill="none"/><path d="M436.18 393.46L441.78 399.06M436.18 399.06L441.78 393.46M438.98 393.46L438.98 399.06" stroke="#800080" stroke-width="1.3" fill="none"/><path d="M456.6 421.43L462.2 427.03M456.6 427.03L462.2 421.43M459.4 421.43L459.4 427.03" stroke="#800080" stroke-width="1.3" fill="none"/><path d="M477.02 454.97L482.62 460.57M477.02 460.57L482.62 454.97M479.82 454.97L479.82 460.57" stroke="#800080" stroke-width="1.3" fill="none"/><path d="M497.44 479.88L503.04 485.48M497.44 485.48L503.04 479.88M500.24 479.88L500.24 485.48" stroke="#800080" stroke-width="1.3" fill="none"/><path d="M517.86 480.84L523.46 486.44M517.86 486.44L523.46 480.84M520.66 480.84L520.66 486.44" stroke="#800080" stroke-width="1.3" fill="none"/>
<polyline points="51,482.96 71.42,483.35 91.84,468.4 112.26,469.17 132.68,433.81 153.1,398.36 173.52,406.51 193.94,391.66 214.36,399.32 234.78,457.29 255.2,484.21 275.62,478.08 296.04,479.04 316.46,478.08 336.88,481.72 357.3,457.77 377.72,418.48 398.14,388.02 418.56,406.8 438.98,404.78 459.4,413.12 479.82,450.48 500.24,482.49 520.66,483.73" fill="none" stroke="#800000" stroke-width="1.2" stroke-linejoin="round"/>
<path d="M51 479.16L54.8 482.96L51 486.76L47.2 482.96Z" fill="#800000"/><path d="M71.42 479.55L75.22 483.35L71.42 487.15L67.62 483.35Z" fill="#800000"/><path d="M91.84 464.6L95.64 468.4L91.84 472.2L88.04 468.4Z" fill="#800000"/><path d="M112.26 465.37L116.06 469.17L112.26 472.97L108.46 469.17Z" fill="#800000"/><path d="M132.68 430.01L136.48 433.81L132.68 437.61L128.88 433.81Z" fill="#800000"/><path d="M153.1 394.56L156.9 398.36L153.1 402.16L149.3 398.36Z" fill="#800000"/><path d="M173.52 402.71L177.32 406.51L173.52 410.31L169.72 406.51Z" fill="#800000"/><path d="M193.94 387.86L197.74 391.66L193.94 395.46L190.14 391.66Z" fill="#800000"/><path d="M214.36 395.52L218.16 399.32L214.36 403.12L210.56 399.32Z" fill="#800000"/><path d="M234.78 453.49L238.58 457.29L234.78 461.09L230.98 457.29Z" fill="#800000"/><path d="M255.2 480.41L259 484.21L255.2 488.01L251.4 484.21Z" fill="#800000"/><path d="M275.62 474.28L279.42 478.08L275.62 481.88L271.82 478.08Z" fill="#800000"/><path d="M296.04 475.24L299.84 479.04L296.04 482.84L292.24 479.04Z" fill="#800000"/><path d="M316.46 474.28L320.26 478.08L316.46 481.88L312.66 478.08Z" fill="#800000"/><path d="M336.88 477.92L340.68 481.72L336.88 485.52L333.08 481.72Z" fill="#800000"/><path d="M357.3 453.97L361.1 457.77L357.3 461.57L353.5 457.77Z" fill="#800000"/><path d="M377.72 414.68L381.52 418.48L377.72 422.28L373.92 418.48Z" fill="#800000"/><path d="M398.14 384.22L401.94 388.02L398.14 391.82L394.34 388.02Z" fill="#800000"/><path d="M418.56 403L422.36 406.8L418.56 410.6L414.76 406.8Z" fill="#800000"/><path d="M438.98 400.98L442.78 404.78L438.98 408.58L435.18 404.78Z" fill="#800000"/><path d="M459.4 409.32L463.2 413.12L459.4 416.92L455.6 413.12Z" fill="#800000"/><path d="M479.82 446.68L483.62 450.48L479.82 454.28L476.02 450.48Z" fill="#800000"/><path d="M500.24 478.69L504.04 482.49L500.24 486.29L496.44 482.49Z" fill="#800000"/><path d="M520.66 479.93L524.46 483.73L520.66 487.53L516.86 483.73Z" fill="#800000"/>
<polyline points="51,486.41 71.42,485.55 91.84,474.72 112.26,475.49 132.68,456.23 153.1,430.08 173.52,443.2 193.94,442.44 214.36,441.86 234.78,482.96 255.2,488.43 275.62,487.47 296.04,483.54 316.46,485.55 336.88,486.51 357.3,473.86 377.72,456.71 398.14,429.41 418.56,424.14 438.98,436.88 459.4,473.1 479.82,480.19 500.24,488.43 520.66,488.43" fill="none" stroke="#339966" stroke-width="1.2" stroke-linejoin="round"/>
<path d="M47.8 486.41L54.2 486.41M51 483.21L51 489.61" stroke="#339966" stroke-width="1" fill="none"/><path d="M68.22 485.55L74.62 485.55M71.42 482.35L71.42 488.75" stroke="#339966" stroke-width="1" fill="none"/><path d="M88.64 474.72L95.04 474.72M91.84 471.52L91.84 477.92" stroke="#339966" stroke-width="1" fill="none"/><path d="M109.06 475.49L115.46 475.49M112.26 472.29L112.26 478.69" stroke="#339966" stroke-width="1" fill="none"/><path d="M129.48 456.23L135.88 456.23M132.68 453.03L132.68 459.43" stroke="#339966" stroke-width="1" fill="none"/><path d="M149.9 430.08L156.3 430.08M153.1 426.88L153.1 433.28" stroke="#339966" stroke-width="1" fill="none"/><path d="M170.32 443.2L176.72 443.2M173.52 440L173.52 446.4" stroke="#339966" stroke-width="1" fill="none"/><path d="M190.74 442.44L197.14 442.44M193.94 439.24L193.94 445.64" stroke="#339966" stroke-width="1" fill="none"/><path d="M211.16 441.86L217.56 441.86M214.36 438.66L214.36 445.06" stroke="#339966" stroke-width="1" fill="none"/><path d="M231.58 482.96L237.98 482.96M234.78 479.76L234.78 486.16" stroke="#339966" stroke-width="1" fill="none"/><path d="M252 488.43L258.4 488.43M255.2 485.23L255.2 491.63" stroke="#339966" stroke-width="1" fill="none"/><path d="M272.42 487.47L278.82 487.47M275.62 484.27L275.62 490.67" stroke="#339966" stroke-width="1" fill="none"/><path d="M292.84 483.54L299.24 483.54M296.04 480.34L296.04 486.74" stroke="#339966" stroke-width="1" fill="none"/><path d="M313.26 485.55L319.66 485.55M316.46 482.35L316.46 488.75" stroke="#339966" stroke-width="1" fill="none"/><path d="M333.68 486.51L340.08 486.51M336.88 483.31L336.88 489.71" stroke="#339966" stroke-width="1" fill="none"/><path d="M354.1 473.86L360.5 473.86M357.3 470.66L357.3 477.06" stroke="#339966" stroke-width="1" fill="none"/><path d="M374.52 456.71L380.92 456.71M377.72 453.51L377.72 459.91" stroke="#339966" stroke-width="1" fill="none"/><path d="M394.94 429.41L401.34 429.41M398.14 426.21L398.14 432.61" stroke="#339966" stroke-width="1" fill="none"/><path d="M415.36 424.14L421.76 424.14M418.56 420.94L418.56 427.34" stroke="#339966" stroke-width="1" fill="none"/><path d="M435.78 436.88L442.18 436.88M438.98 433.68L438.98 440.08" stroke="#339966" stroke-width="1" fill="none"/><path d="M456.2 473.1L462.6 473.1M459.4 469.9L459.4 476.3" stroke="#339966" stroke-width="1" fill="none"/><path d="M476.62 480.19L483.02 480.19M479.82 476.99L479.82 483.39" stroke="#339966" stroke-width="1" fill="none"/><path d="M497.04 488.43L503.44 488.43M500.24 485.23L500.24 491.63" stroke="#339966" stroke-width="1" fill="none"/><path d="M517.46 488.43L523.86 488.43M520.66 485.23L520.66 491.63" stroke="#339966" stroke-width="1" fill="none"/>
<polyline points="51,477.79 71.42,474.72 91.84,461.6 112.26,462.56 132.68,410.82 153.1,385.91 173.52,393.29 193.94,379.11 214.36,427.11 234.78,460.74 255.2,480.09 275.62,479.9 296.04,477.12 316.46,480.86 336.88,483.92 357.3,457.77 377.72,416.86 398.14,389.45 418.56,383.99 438.98,381.12 459.4,424.42 479.82,459.68 500.24,480.19 520.66,483.73" fill="none" stroke="#0000FF" stroke-width="1.2" stroke-linejoin="round"/>
<rect x="47.7" y="475.69" width="6.6" height="2.5" fill="#0000FF"/><rect x="68.12" y="472.62" width="6.6" height="2.5" fill="#0000FF"/><rect x="88.54" y="459.5" width="6.6" height="2.5" fill="#0000FF"/><rect x="108.96" y="460.46" width="6.6" height="2.5" fill="#0000FF"/><rect x="129.38" y="408.72" width="6.6" height="2.5" fill="#0000FF"/><rect x="149.8" y="383.81" width="6.6" height="2.5" fill="#0000FF"/><rect x="170.22" y="391.19" width="6.6" height="2.5" fill="#0000FF"/><rect x="190.64" y="377.01" width="6.6" height="2.5" fill="#0000FF"/><rect x="211.06" y="425.01" width="6.6" height="2.5" fill="#0000FF"/><rect x="231.48" y="458.64" width="6.6" height="2.5" fill="#0000FF"/><rect x="251.9" y="477.99" width="6.6" height="2.5" fill="#0000FF"/><rect x="272.32" y="477.8" width="6.6" height="2.5" fill="#0000FF"/><rect x="292.74" y="475.02" width="6.6" height="2.5" fill="#0000FF"/><rect x="313.16" y="478.76" width="6.6" height="2.5" fill="#0000FF"/><rect x="333.58" y="481.82" width="6.6" height="2.5" fill="#0000FF"/><rect x="354" y="455.67" width="6.6" height="2.5" fill="#0000FF"/><rect x="374.42" y="414.76" width="6.6" height="2.5" fill="#0000FF"/><rect x="394.84" y="387.35" width="6.6" height="2.5" fill="#0000FF"/><rect x="415.26" y="381.89" width="6.6" height="2.5" fill="#0000FF"/><rect x="435.68" y="379.02" width="6.6" height="2.5" fill="#0000FF"/><rect x="456.1" y="422.32" width="6.6" height="2.5" fill="#0000FF"/><rect x="476.52" y="457.58" width="6.6" height="2.5" fill="#0000FF"/><rect x="496.94" y="478.09" width="6.6" height="2.5" fill="#0000FF"/><rect x="517.36" y="481.63" width="6.6" height="2.5" fill="#0000FF"/>
<polyline points="51,470.8 71.42,469.26 91.84,460.64 112.26,461.41 132.68,429.69 153.1,409.57 173.52,401.24 193.94,385.62 214.36,422.7 234.78,468.78 255.2,478.56 275.62,470.03 296.04,462.37 316.46,468.4 336.88,474.63 357.3,456.71 377.72,425 398.14,394.72 418.56,381.88 438.98,387.73 459.4,433.72 479.82,457.48 500.24,472.81 520.66,472.33" fill="none" stroke="#000000" stroke-width="1.2" stroke-linejoin="round"/>
<circle cx="50" cy="470.8" r="4.9" fill="#000000"/><circle cx="70.42" cy="469.26" r="4.9" fill="#000000"/><circle cx="90.84" cy="460.64" r="4.9" fill="#000000"/><circle cx="111.26" cy="461.41" r="4.9" fill="#000000"/><circle cx="131.68" cy="429.69" r="4.9" fill="#000000"/><circle cx="152.1" cy="409.57" r="4.9" fill="#000000"/><circle cx="172.52" cy="401.24" r="4.9" fill="#000000"/><circle cx="192.94" cy="385.62" r="4.9" fill="#000000"/><circle cx="213.36" cy="422.7" r="4.9" fill="#000000"/><circle cx="233.78" cy="468.78" r="4.9" fill="#000000"/><circle cx="254.2" cy="478.56" r="4.9" fill="#000000"/><circle cx="274.62" cy="470.03" r="4.9" fill="#000000"/><circle cx="295.04" cy="462.37" r="4.9" fill="#000000"/><circle cx="315.46" cy="468.4" r="4.9" fill="#000000"/><circle cx="335.88" cy="474.63" r="4.9" fill="#000000"/><circle cx="356.3" cy="456.71" r="4.9" fill="#000000"/><circle cx="376.72" cy="425" r="4.9" fill="#000000"/><circle cx="397.14" cy="394.72" r="4.9" fill="#000000"/><circle cx="417.56" cy="381.88" r="4.9" fill="#000000"/><circle cx="437.98" cy="387.73" r="4.9" fill="#000000"/><circle cx="458.4" cy="433.72" r="4.9" fill="#000000"/><circle cx="478.82" cy="457.48" r="4.9" fill="#000000"/><circle cx="499.24" cy="472.81" r="4.9" fill="#000000"/><circle cx="519.66" cy="472.33" r="4.9" fill="#000000"/>
<text transform="translate(26.60,295.70) scale(0.992,1.000)" x="-3.91" font-size="16.00">2</text>
<text transform="translate(34.00,295.70) scale(1.000,1.000)" x="-4.22" font-size="16.00">1</text>
<text transform="translate(41.40,295.70) scale(0.938,1.000)" x="-4.00" font-size="16.00">0</text>
<text transform="translate(26.60,324.40) scale(1.000,1.000)" x="-4.22" font-size="16.00">1</text>
<text transform="translate(34.00,324.40) scale(0.938,1.000)" x="-4.00" font-size="16.00">8</text>
<text transform="translate(41.40,324.40) scale(0.938,1.000)" x="-4.00" font-size="16.00">0</text>
<text transform="translate(26.60,353.00) scale(1.000,1.000)" x="-4.22" font-size="16.00">1</text>
<text transform="translate(34.00,353.00) scale(0.987,1.000)" x="-4.15" font-size="16.00">5</text>
<text transform="translate(41.40,353.00) scale(0.938,1.000)" x="-4.00" font-size="16.00">0</text>
<text transform="translate(26.60,381.90) scale(1.000,1.000)" x="-4.22" font-size="16.00">1</text>
<text transform="translate(34.00,381.90) scale(0.992,1.000)" x="-3.91" font-size="16.00">2</text>
<text transform="translate(41.40,381.90) scale(0.938,1.000)" x="-4.00" font-size="16.00">0</text>
<text transform="translate(34.00,410.70) scale(0.932,1.000)" x="-3.93" font-size="16.00">9</text>
<text transform="translate(41.40,410.70) scale(0.938,1.000)" x="-4.00" font-size="16.00">0</text>
<text transform="translate(34.00,439.40) scale(0.931,1.000)" x="-4.11" font-size="16.00">6</text>
<text transform="translate(41.40,439.40) scale(0.938,1.000)" x="-4.00" font-size="16.00">0</text>
<text transform="translate(34.00,468.00) scale(0.963,1.000)" x="-4.07" font-size="16.00">3</text>
<text transform="translate(41.40,468.00) scale(0.938,1.000)" x="-4.00" font-size="16.00">0</text>
<text transform="translate(41.40,496.90) scale(0.938,1.000)" x="-4.00" font-size="16.00">0</text>
<text transform="translate(31.77,511.50) scale(1.000,1.160)" x="-3.11" font-size="16.00">J</text>
<text transform="translate(39.23,509.80) scale(1.000,1.000)" x="-3.72" font-size="16.00">a</text>
<text transform="translate(46.68,509.80) scale(0.907,1.000)" x="-4.06" font-size="16.00">n</text>
<path d="M51.29 511.50L57.48 497.96" stroke="#000" stroke-width="0.95" fill="none"/>
<text transform="translate(61.58,509.80) scale(0.989,1.000)" x="-4.00" font-size="16.00">0</text>
<text transform="translate(69.03,509.80) scale(1.000,1.000)" x="-4.07" font-size="16.00">3</text>
<text transform="translate(93.03,509.80) scale(0.594,1.000)" x="-5.80" font-size="16.00">A</text>
<text transform="translate(100.48,509.80) scale(0.942,1.000)" x="-3.82" font-size="16.00">p</text>
<text transform="translate(107.94,509.80) scale(1.000,1.000)" x="-2.75" font-size="16.00">r</text>
<path d="M112.55 511.50L118.74 497.96" stroke="#000" stroke-width="0.95" fill="none"/>
<text transform="translate(122.84,509.80) scale(0.989,1.000)" x="-4.00" font-size="16.00">0</text>
<text transform="translate(130.29,509.80) scale(1.000,1.000)" x="-4.07" font-size="16.00">3</text>
<text transform="translate(154.30,511.50) scale(1.000,1.160)" x="-3.11" font-size="16.00">J</text>
<text transform="translate(161.75,509.80) scale(0.892,1.000)" x="-3.97" font-size="16.00">u</text>
<text transform="translate(169.19,509.80) scale(1.000,1.000)" x="-2.22" font-size="16.00">l</text>
<path d="M173.81 511.50L180.00 497.96" stroke="#000" stroke-width="0.95" fill="none"/>
<text transform="translate(184.09,509.80) scale(0.989,1.000)" x="-4.00" font-size="16.00">0</text>
<text transform="translate(191.54,509.80) scale(1.000,1.000)" x="-4.07" font-size="16.00">3</text>
<text transform="translate(215.56,509.80) scale(0.655,1.000)" x="-5.78" font-size="16.00">O</text>
<text transform="translate(223.01,509.80) scale(1.000,1.000)" x="-3.61" font-size="16.00">c</text>
<text transform="translate(230.46,509.80) scale(1.000,1.000)" x="-2.25" font-size="16.00">t</text>
<path d="M235.07 511.50L241.26 497.96" stroke="#000" stroke-width="0.95" fill="none"/>
<text transform="translate(245.35,509.80) scale(0.989,1.000)" x="-4.00" font-size="16.00">0</text>
<text transform="translate(252.80,509.80) scale(1.000,1.000)" x="-4.07" font-size="16.00">3</text>
<text transform="translate(276.81,511.50) scale(1.000,1.160)" x="-3.11" font-size="16.00">J</text>
<text transform="translate(284.26,509.80) scale(1.000,1.000)" x="-3.72" font-size="16.00">a</text>
<text transform="translate(291.71,509.80) scale(0.907,1.000)" x="-4.06" font-size="16.00">n</text>
<path d="M296.33 511.50L302.52 497.96" stroke="#000" stroke-width="0.95" fill="none"/>
<text transform="translate(306.61,509.80) scale(0.989,1.000)" x="-4.00" font-size="16.00">0</text>
<text transform="translate(314.06,509.80) scale(0.902,1.000)" x="-4.03" font-size="16.00">4</text>
<text transform="translate(338.07,509.80) scale(0.594,1.000)" x="-5.80" font-size="16.00">A</text>
<text transform="translate(345.52,509.80) scale(0.942,1.000)" x="-3.82" font-size="16.00">p</text>
<text transform="translate(352.97,509.80) scale(1.000,1.000)" x="-2.75" font-size="16.00">r</text>
<path d="M357.59 511.50L363.78 497.96" stroke="#000" stroke-width="0.95" fill="none"/>
<text transform="translate(367.87,509.80) scale(0.989,1.000)" x="-4.00" font-size="16.00">0</text>
<text transform="translate(375.32,509.80) scale(0.902,1.000)" x="-4.03" font-size="16.00">4</text>
<text transform="translate(399.34,511.50) scale(1.000,1.160)" x="-3.11" font-size="16.00">J</text>
<text transform="translate(406.79,509.80) scale(0.892,1.000)" x="-3.97" font-size="16.00">u</text>
<text transform="translate(414.24,509.80) scale(1.000,1.000)" x="-2.22" font-size="16.00">l</text>
<path d="M418.85 511.50L425.04 497.96" stroke="#000" stroke-width="0.95" fill="none"/>
<text transform="translate(429.13,509.80) scale(0.989,1.000)" x="-4.00" font-size="16.00">0</text>
<text transform="translate(436.58,509.80) scale(0.902,1.000)" x="-4.03" font-size="16.00">4</text>
<text transform="translate(460.60,509.80) scale(0.655,1.000)" x="-5.78" font-size="16.00">O</text>
<text transform="translate(468.05,509.80) scale(1.000,1.000)" x="-3.61" font-size="16.00">c</text>
<text transform="translate(475.50,509.80) scale(1.000,1.000)" x="-2.25" font-size="16.00">t</text>
<path d="M480.11 511.50L486.30 497.96" stroke="#000" stroke-width="0.95" fill="none"/>
<text transform="translate(490.39,509.80) scale(0.989,1.000)" x="-4.00" font-size="16.00">0</text>
<text transform="translate(497.84,509.80) scale(0.902,1.000)" x="-4.03" font-size="16.00">4</text>
<path d="M289.00 270.20C283.27 273.06 283.27 280.34 289.00 283.20" stroke="#000" stroke-width="1.05" fill="none" stroke-linecap="round"/>
<text transform="translate(296.90,283.40) scale(0.950,1.000)" x="-4.39" font-size="19.00">b</text>
<path d="M304.40 270.20C310.53 273.06 310.53 280.34 304.40 283.20" stroke="#000" stroke-width="1.05" fill="none" stroke-linecap="round"/>
<g transform="translate(12.4,475.0) rotate(-90)"><text transform="translate(3.77,0.00) scale(0.891,1.000)" x="-4.36" font-size="16.00">P</text><text transform="translate(11.32,0.00) scale(1.000,1.000)" x="-2.75" font-size="16.00">r</text><text transform="translate(18.88,0.00) scale(1.000,1.000)" x="-3.59" font-size="16.00">e</text><text transform="translate(26.42,0.00) scale(1.000,1.000)" x="-3.61" font-size="16.00">c</text><text transform="translate(33.98,0.00) scale(1.000,1.000)" x="-2.24" font-size="16.00">i</text><text transform="translate(41.52,0.00) scale(0.976,1.000)" x="-3.82" font-size="16.00">p</text><text transform="translate(49.07,0.00) scale(1.000,1.000)" x="-2.24" font-size="16.00">i</text><text transform="translate(56.62,0.00) scale(1.000,1.000)" x="-2.25" font-size="16.00">t</text><text transform="translate(64.17,0.00) scale(1.000,1.000)" x="-3.72" font-size="16.00">a</text><text transform="translate(71.72,0.00) scale(1.000,1.000)" x="-2.25" font-size="16.00">t</text><text transform="translate(79.27,0.00) scale(1.000,1.000)" x="-2.24" font-size="16.00">i</text><text transform="translate(86.82,0.00) scale(1.000,1.000)" x="-4.00" font-size="16.00">o</text><text transform="translate(94.37,0.00) scale(0.940,1.000)" x="-4.06" font-size="16.00">n</text><path d="M106.00 -11.90C101.20 -9.08 101.20 -1.92 106.00 0.90" stroke="#000" stroke-width="1.05" fill="none" stroke-linecap="round"/><text transform="translate(110.28,0.00) scale(0.586,1.000)" x="-6.27" font-size="16.00">m</text><text transform="translate(117.83,0.00) scale(0.586,1.000)" x="-6.27" font-size="16.00">m</text><path d="M122.51 1.70L128.77 -11.84" stroke="#000" stroke-width="0.95" fill="none"/><text transform="translate(132.93,0.00) scale(0.586,1.000)" x="-6.27" font-size="16.00">m</text><text transform="translate(140.48,0.00) scale(1.000,1.000)" x="-4.00" font-size="16.00">o</text><text transform="translate(148.03,0.00) scale(0.940,1.000)" x="-4.06" font-size="16.00">n</text><path d="M153.50 -11.90C157.63 -9.22 157.63 -2.38 153.50 0.30" stroke="#000" stroke-width="1.05" fill="none" stroke-linecap="round"/></g>
<path d="M532.9 305.3H560.6" stroke="#FF0000" stroke-width="1.1" opacity="1"/>
<path d="M546.6 299.8L552.1 310.8L541.1 310.8Z" fill="#FF0000"/>
<text transform="translate(567.77,309.70) scale(1.000,1.000)" x="-4.49" font-size="16.00">S</text>
<text transform="translate(575.32,309.70) scale(1.000,1.000)" x="-2.25" font-size="16.00">t</text>
<text transform="translate(582.87,309.70) scale(1.000,1.000)" x="-3.72" font-size="16.00">a</text>
<text transform="translate(590.42,309.70) scale(1.000,1.000)" x="-2.25" font-size="16.00">t</text>
<text transform="translate(597.97,309.70) scale(1.000,1.000)" x="-2.24" font-size="16.00">i</text>
<text transform="translate(605.52,309.70) scale(1.000,1.000)" x="-4.00" font-size="16.00">o</text>
<text transform="translate(613.07,309.70) scale(0.960,1.000)" x="-4.06" font-size="16.00">n</text>
<path d="M532.9 325.7H560.6" stroke="#000080" stroke-width="1.1" opacity="1"/>
<path d="M546.6 321.9L550.4 325.7L546.6 329.5L542.8 325.7Z" fill="#000080"/>
<text transform="translate(567.77,330.10) scale(0.753,1.000)" x="-5.18" font-size="16.00">B</text>
<text transform="translate(575.32,330.10) scale(0.534,1.000)" x="-7.11" font-size="16.00">M</text>
<text transform="translate(582.87,330.10) scale(0.697,1.000)" x="-5.55" font-size="16.00">R</text>
<text transform="translate(590.42,330.10) scale(0.777,1.000)" x="-5.22" font-size="16.00">C</text>
<path d="M532.9 345.6H560.6" stroke="#FF00FF" stroke-width="1.1" opacity="1"/>
<rect x="542.5" y="342.6" width="6" height="6" fill="#FF00FF"/>
<text transform="translate(567.77,350.00) scale(0.777,1.000)" x="-5.22" font-size="16.00">C</text>
<text transform="translate(575.32,350.00) scale(0.910,1.000)" x="-4.36" font-size="16.00">P</text>
<text transform="translate(582.87,350.00) scale(0.770,1.000)" x="-4.90" font-size="16.00">T</text>
<text transform="translate(590.42,350.00) scale(0.833,1.000)" x="-4.72" font-size="16.00">E</text>
<text transform="translate(597.97,350.00) scale(0.777,1.000)" x="-5.22" font-size="16.00">C</text>
<path d="M532.9 365.9H560.6" stroke="#FF6600" stroke-width="1.1" opacity="1"/>
<path d="M546.6 362.15L550.35 369.65L542.85 369.65Z" fill="#FF6600"/>
<text transform="translate(567.77,370.30) scale(0.833,1.000)" x="-4.72" font-size="16.00">E</text>
<text transform="translate(575.32,370.30) scale(0.777,1.000)" x="-5.22" font-size="16.00">C</text>
<text transform="translate(582.87,370.30) scale(0.910,1.000)" x="-4.36" font-size="16.00">P</text>
<text transform="translate(590.42,370.30) scale(0.777,1.000)" x="-5.22" font-size="16.00">C</text>
<rect x="594.73" y="364.28" width="6.64" height="0.85" fill="#000"/>
<text transform="translate(605.52,370.30) scale(0.697,1.000)" x="-5.55" font-size="16.00">R</text>
<text transform="translate(613.07,370.30) scale(1.000,1.000)" x="-2.67" font-size="16.00">I</text>
<text transform="translate(620.62,370.30) scale(1.000,1.000)" x="-2.67" font-size="16.00">I</text>
<path d="M532.9 385.8H560.6" stroke="#008000" stroke-width="1.1" opacity="1"/>
<rect x="542.5" y="382.8" width="6" height="6" fill="#008000"/>
<text transform="translate(567.77,390.20) scale(0.833,1.000)" x="-4.72" font-size="16.00">E</text>
<text transform="translate(575.32,390.20) scale(0.777,1.000)" x="-5.22" font-size="16.00">C</text>
<text transform="translate(582.87,390.20) scale(0.910,1.000)" x="-4.36" font-size="16.00">P</text>
<text transform="translate(590.42,390.20) scale(0.777,1.000)" x="-5.22" font-size="16.00">C</text>
<rect x="594.73" y="384.18" width="6.64" height="0.85" fill="#000"/>
<text transform="translate(605.52,390.20) scale(1.000,1.000)" x="-4.49" font-size="16.00">S</text>
<text transform="translate(613.07,390.20) scale(0.903,1.000)" x="-4.39" font-size="16.00">F</text>
<text transform="translate(620.62,390.20) scale(0.534,1.000)" x="-7.11" font-size="16.00">M</text>
<path d="M532.9 405.8H560.6" stroke="#800080" stroke-width="1.1" opacity="1"/>
<path d="M543.8 403L549.4 408.6M543.8 408.6L549.4 403M546.6 403L546.6 408.6" stroke="#800080" stroke-width="1.3" fill="none"/>
<text transform="translate(567.77,411.90) scale(1.000,1.160)" x="-3.11" font-size="16.00">J</text>
<text transform="translate(575.32,410.20) scale(0.534,1.000)" x="-7.11" font-size="16.00">M</text>
<text transform="translate(582.87,410.20) scale(0.629,1.000)" x="-5.80" font-size="16.00">A</text>
<path d="M532.9 426.1H560.6" stroke="#800000" stroke-width="1.1" opacity="1"/>
<path d="M546.6 422.3L550.4 426.1L546.6 429.9L542.8 426.1Z" fill="#800000"/>
<text transform="translate(567.77,430.50) scale(0.534,1.000)" x="-7.11" font-size="16.00">M</text>
<text transform="translate(575.32,430.50) scale(1.000,1.000)" x="-4.49" font-size="16.00">S</text>
<text transform="translate(582.87,430.50) scale(0.777,1.000)" x="-5.22" font-size="16.00">C</text>
<path d="M532.9 446.1H560.6" stroke="#339966" stroke-width="1.1" opacity="1"/>
<path d="M543.4 446.1L549.8 446.1M546.6 442.9L546.6 449.3" stroke="#339966" stroke-width="1" fill="none"/>
<text transform="translate(567.77,450.50) scale(0.662,1.000)" x="-5.82" font-size="16.00">N</text>
<text transform="translate(575.32,450.50) scale(0.777,1.000)" x="-5.22" font-size="16.00">C</text>
<text transform="translate(582.87,450.50) scale(0.833,1.000)" x="-4.72" font-size="16.00">E</text>
<text transform="translate(590.42,450.50) scale(0.910,1.000)" x="-4.36" font-size="16.00">P</text>
<path d="M532.9 466.2H560.6" stroke="#0000FF" stroke-width="1.1" opacity="1"/>
<rect x="543.3" y="464.1" width="6.6" height="2.5" fill="#0000FF"/>
<text transform="translate(567.77,470.60) scale(0.652,1.000)" x="-5.78" font-size="16.00">U</text>
<text transform="translate(575.32,470.60) scale(0.649,1.000)" x="-5.93" font-size="16.00">K</text>
<text transform="translate(582.87,470.60) scale(0.534,1.000)" x="-7.11" font-size="16.00">M</text>
<text transform="translate(590.42,470.60) scale(0.693,1.000)" x="-5.78" font-size="16.00">O</text>
<path d="M532.9 486.3H560.6" stroke="#000000" stroke-width="1.1" opacity="1"/>
<circle cx="545.6" cy="486.3" r="4.75" fill="#000000"/>
<text transform="translate(567.77,490.70) scale(0.534,1.000)" x="-7.11" font-size="16.00">M</text>
<text transform="translate(575.32,490.70) scale(0.629,1.000)" x="-5.80" font-size="16.00">A</text>
<text transform="translate(582.87,490.70) scale(0.777,1.000)" x="-5.22" font-size="16.00">C</text>
</svg>
</body></html>
